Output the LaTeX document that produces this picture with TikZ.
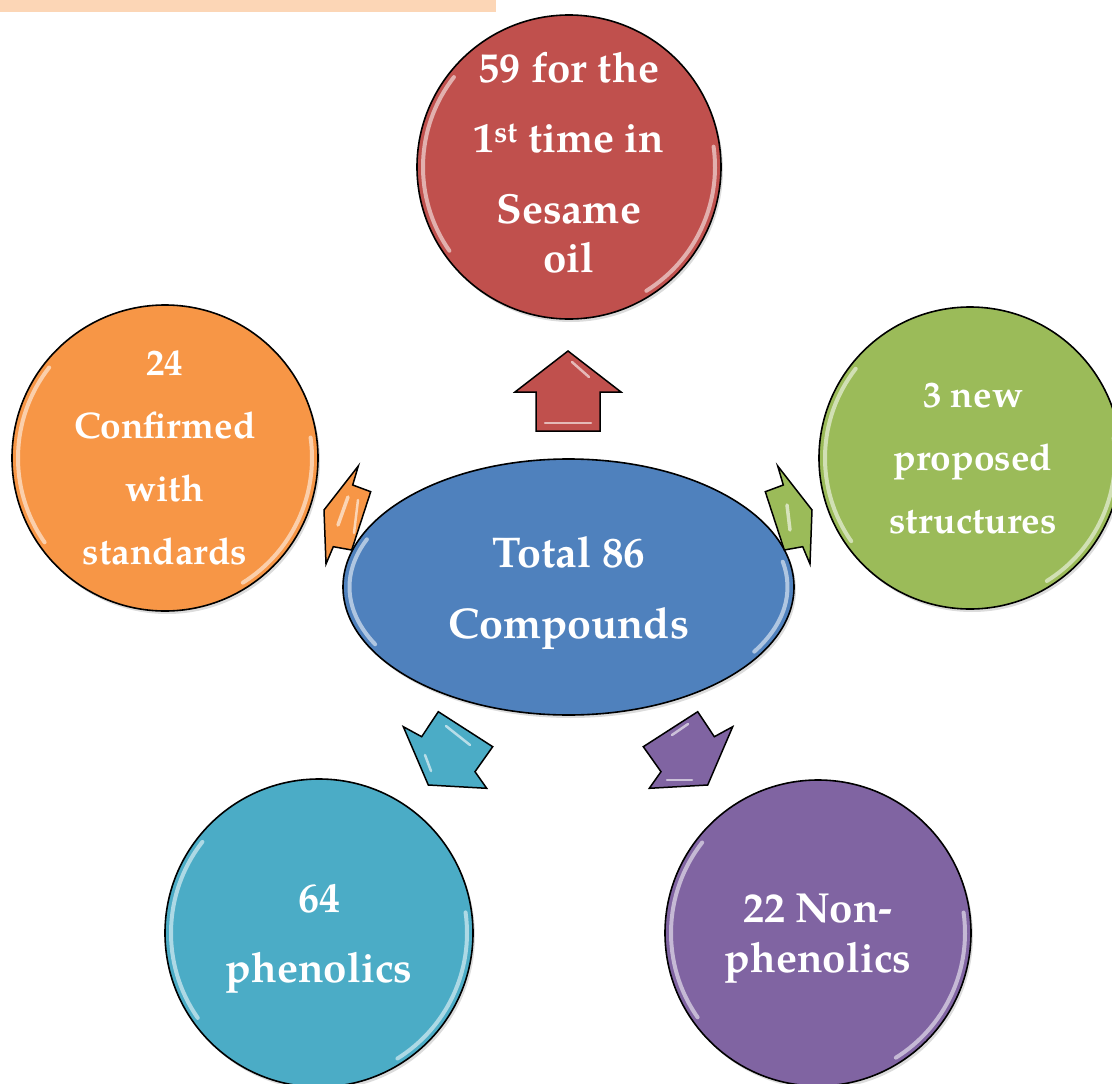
\documentclass[tikz,border=0pt]{standalone}
\usepackage{fontspec}
\setmainfont{TeX Gyre Pagella}
\usetikzlibrary{shapes.geometric,shadows}
\definecolor{cred}{HTML}{C0504D}
\definecolor{corange}{HTML}{F79646}
\definecolor{cgreen}{HTML}{9BBB59}
\definecolor{cteal}{HTML}{4BACC6}
\definecolor{cpurple}{HTML}{8064A2}
\definecolor{cblue}{HTML}{4F81BD}
\definecolor{cpeach}{HTML}{FCD6B6}
\newcommand\stacktext[1]{\begin{tabular}[t]{@{}c@{}}#1\end{tabular}}
\tikzset{
  bubble/.style={circle, draw=black, line width=1.6pt, inner sep=0pt, minimum size=#1,
    drop shadow={opacity=0.28, shadow xshift=2pt, shadow yshift=-3pt}},
  hl/.style={white, opacity=0.55, line width=4pt, line cap=round},
  lbl/.style={text=white, inner sep=0pt, anchor=base},
  arrowshape/.style={draw=black, line width=1.5pt, line join=miter},
  ahl/.style={white, opacity=0.6, line width=2.5pt, line cap=round}
}
\begin{document}
\begin{tikzpicture}[x=1pt,y=-1pt]
\useasboundingbox (0,0) rectangle (1112,1084);
\clip (0,0) rectangle (1112,1084);
\fill[cpeach] (0,0) rectangle (496,12);

% circles
\node[bubble=304, fill=cred] (ctop) at (569,167) {};
\node[bubble=306, fill=corange] (cleft) at (165,458) {};
\node[bubble=302, fill=cgreen] (cright) at (970,458) {};
\node[bubble=308, fill=cteal] (cbl) at (319,933) {};
\node[bubble=306, fill=cpurple] (cbr) at (818,933) {};
\node[ellipse, draw=black, line width=1.6pt, fill=cblue, minimum width=451, minimum height=256, inner sep=0pt,
  drop shadow={opacity=0.28, shadow xshift=2pt, shadow yshift=-3pt}] (center) at (568.5,587) {};

% glossy highlights
\foreach \c/\r in {ctop/146, cleft/147, cright/145, cbl/148, cbr/147}{
  \draw[hl] ([shift={(145:\r)}]\c.center) arc[start angle=145, end angle=218, radius=\r];
  \draw[hl] ([shift={(-8:\r)}]\c.center) arc[start angle=-8, end angle=58, radius=\r];
}
\draw[hl] ([shift={(152:219 and 122)}]center.center) arc[start angle=152, end angle=203, x radius=219, y radius=122];
\draw[hl] ([shift={(-12:219 and 122)}]center.center) arc[start angle=-12, end angle=32, x radius=219, y radius=122];

% arrows
\filldraw[arrowshape, fill=cred] (568,351) -- (621,392) -- (600,392) -- (600,431) -- (536,431) -- (536,392) -- (515,392) -- cycle;
\draw[ahl] (572,362) -- (589,377);
\draw[ahl] (545,423) -- (591,423);
\filldraw[arrowshape, fill=corange] (324,510) -- (358.3,466) -- (352.7,485) -- (370.7,491.7) -- (351.7,550) -- (333.3,546.7) -- (326,564) -- cycle;
\draw[ahl, line width=3.5pt] (348,497) -- (338,525);
\draw[ahl] (358,500) -- (354,533);
\filldraw[arrowshape, fill=cgreen] (812,510) -- (777.7,466) -- (783.3,485) -- (765.3,491.7) -- (784.3,550) -- (802.7,546.7) -- (810,564) -- cycle;
\draw[ahl, line width=3.5pt] (787,505) -- (790,530);
\filldraw[arrowshape, fill=cteal] (428.3,785) -- (403.3,726.7) -- (421.7,736.7) -- (438.3,711.7) -- (492.7,746.7) -- (475,771.7) -- (486.7,788.3) -- cycle;
\draw[ahl] (446,726) -- (470,745);
\draw[ahl] (425,755) -- (431,771);
\filldraw[arrowshape, fill=cpurple] (707.7,785) -- (732.7,726.7) -- (714.3,736.7) -- (697.7,711.7) -- (643.3,746.7) -- (661,771.7) -- (649.3,788.3) -- cycle;
\draw[ahl] (672,735) -- (688,724);
\draw[ahl] (667,780) -- (692,780);

% texts
\node[lbl, font={\fontsize{42}{50}\selectfont\bfseries}] (ttop) at (569,82)
  {\stacktext{59 for the\\[20pt] 1\textsuperscript{st} time in\\[21pt] Sesame\\ oil}};
\node[lbl, font={\fontsize{37}{63}\selectfont\bfseries}] (tleft) at (165,375)
  {\stacktext{24\\ Confirmed\\ with\\ standards}};
\node[lbl, font={\fontsize{37}{63}\selectfont\bfseries}] (tright) at (973,407)
  {\stacktext{3 new\\ proposed\\ structures}};
\node[lbl, font={\fontsize{42}{70}\selectfont\bfseries}] (tbl) at (319,912)
  {\stacktext{64\\ phenolics}};
\node[lbl, font={\fontsize{42}{50}\selectfont\bfseries}] (tbr) at (818,922)
  {\stacktext{22 Non-\\ phenolics}};
\node[lbl, font={\fontsize{43}{71}\selectfont\bfseries}] (tcenter) at (569,567)
  {\stacktext{Total 86\\ Compounds}};
\end{tikzpicture}
\end{document}
